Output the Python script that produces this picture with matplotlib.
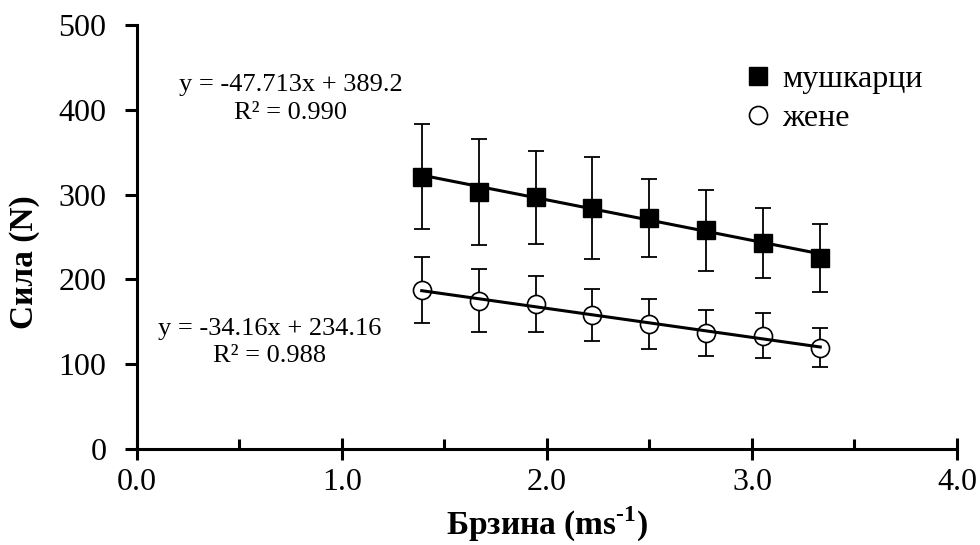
import matplotlib
matplotlib.use('Agg')
import numpy as np
import matplotlib.pyplot as plt

# brzina u m/s (5-12 km/h)
brzina = [1.389, 1.667, 1.944, 2.222, 2.500, 2.778, 3.056, 3.333]

# sila (N) - srednja vrednost i SD
muskarci = [321, 303, 297, 284, 272, 258, 243, 225]
muskarci_sd = [62, 62, 55, 60, 46, 48, 41, 40]
zene = [187.5, 175, 170.5, 158, 147.5, 137, 133.5, 119.5]
zene_sd = [39, 37, 33, 31, 30, 27, 26.5, 23]

# linearni trend (koeficijenti sa grafika)
trend_m = [-47.713, 389.2]
trend_z = [-34.16, 234.16]
r2_m = 0.990
r2_z = 0.988

plt.rcParams['font.family'] = ['Liberation Serif', 'DejaVu Serif']
plt.rcParams['mathtext.fontset'] = 'custom'
plt.rcParams['mathtext.rm'] = 'Liberation Serif'
plt.rcParams['mathtext.bf'] = 'Liberation Serif:bold'

fig = plt.figure(figsize=(9.8, 5.45), dpi=100)
ax = fig.add_axes([0.1398, 0.1761, 0.8367, 0.7780])

x = np.array(brzina)

# error bars
ax.errorbar(x, muskarci, yerr=muskarci_sd, fmt='none', ecolor='black',
            elinewidth=1.3, capsize=6, capthick=1.3, zorder=2)
ax.errorbar(x, zene, yerr=zene_sd, fmt='none', ecolor='black',
            elinewidth=1.3, capsize=6, capthick=1.3, zorder=2)

# markeri
ax.plot(x, muskarci, linestyle='none', marker='s', markersize=13,
        markerfacecolor='black', markeredgecolor='black', label='мушкарци', zorder=3)
ax.plot(x, zene, linestyle='none', marker='o', markersize=13,
        markerfacecolor='white', markeredgecolor='black', markeredgewidth=1.2,
        label='жене', zorder=3)

# trend linije
xt = np.array([x[0], x[-1]])
ax.plot(xt, np.polyval(trend_m, xt), color='black', linewidth=2.2, zorder=4)
ax.plot(xt, np.polyval(trend_z, xt), color='black', linewidth=2.2, zorder=4)

ax.text(0.75, 412.7, 'y = %.3fx + %.1f\nR² = %.3f' % (trend_m[0], trend_m[1], r2_m),
        ha='center', va='center', multialignment='center', fontsize=19,
        linespacing=1.33)
ax.text(0.646, 125.6, 'y = %.2fx + %.2f\nR² = %.3f' % (trend_z[0], trend_z[1], r2_z),
        ha='center', va='center', multialignment='center', fontsize=19,
        linespacing=1.35)

ax.set_xlim(0, 4)
ax.set_ylim(0, 500)
ax.set_xticks([0, 1, 2, 3, 4])
ax.set_xticklabels(['0.0', '1.0', '2.0', '3.0', '4.0'])
ax.set_xticks([0.5, 1.5, 2.5, 3.5], minor=True)
ax.set_yticks([0, 100, 200, 300, 400, 500])

for s in ['top', 'right']:
    ax.spines[s].set_visible(False)
for s in ['left', 'bottom']:
    ax.spines[s].set_linewidth(2.2)

ax.tick_params(axis='x', which='major', direction='inout', length=16, width=2.2,
               labelsize=23, pad=6)
ax.tick_params(axis='x', which='minor', direction='in', length=7, width=2.2)
ax.tick_params(axis='y', which='major', direction='out', length=9, width=2.2,
               labelsize=23, pad=13)

ax.text(0.5, -0.2028, 'Брзина (ms$^{\\mathbf{\u20101}}$)', transform=ax.transAxes,
        ha='center', va='baseline', fontsize=24, fontweight='bold')
ax.text(-0.1366, 0.44, 'Сила (N)', transform=ax.transAxes, rotation=90,
        ha='center', va='center', fontsize=24, fontweight='bold')

ax.legend(loc='center left', bbox_to_anchor=(0.714, 0.826), frameon=False,
          fontsize=23, handletextpad=0.16, labelspacing=0.32, handlelength=1.2,
          borderpad=0)

plt.savefig('out.png', dpi=100)
